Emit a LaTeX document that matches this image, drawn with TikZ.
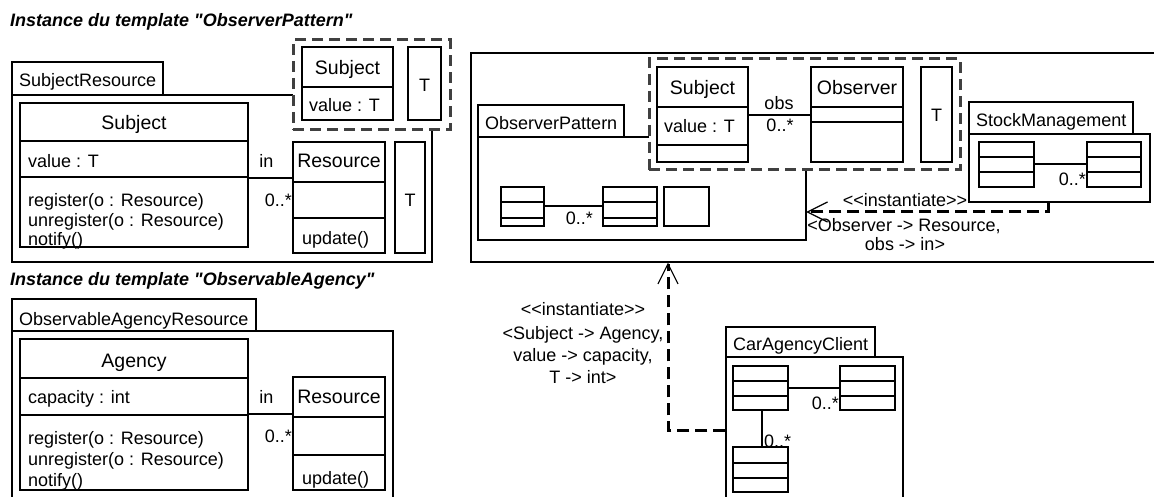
\documentclass[tikz,border=0pt]{standalone}
\usepackage{fontspec}
\newfontfamily\umlfont{Liberation Sans}
\usetikzlibrary{fit,arrows.meta}
\definecolor{tgray}{HTML}{404040}
\newcommand\umlsep[2]{\draw[ln] (#1.west |- 0,#2) -- (#1.east |- 0,#2);}
\begin{document}
\begin{tikzpicture}[x=1pt,y=-1pt,
  ln/.style={line width=1.1pt},
  bx/.style={draw, line width=1.1pt, inner sep=0pt, fit={#1}},
  hid/.style={inner sep=0pt, fit={#1}},
  tb/.style={draw=tgray, line width=3pt, dash pattern=on 11pt off 6pt, inner sep=0pt, fit={#1}},
  t/.style={inner sep=0pt, font=\umlfont\fontsize{18}{22}\selectfont},
  tl/.style={t, anchor=base west},
  tc/.style={t, anchor=base},
  tr/.style={t, anchor=base east},
  cn/.style={inner sep=0pt, anchor=base, font=\umlfont\fontsize{19.5}{22}\selectfont},
  ttl/.style={inner sep=0pt, anchor=base west, font=\umlfont\bfseries\itshape\fontsize{18}{22}\selectfont},
  dep/.style={line width=3pt, dash pattern=on 12pt off 6pt, -{Straight Barb[length=20pt,width=20pt,line width=1.2pt]}}]
\useasboundingbox (0,0) rectangle (1154,497);
\clip (0,0) rectangle (1154,497);
\fill[white] (0,0) rectangle (1154,497);

% ---------- Template instance ObserverPattern ----------
\node[ttl] (title1) at (10,26.5) {Instance du template "ObserverPattern"};
\node[bx={(12,62) (163,95)}] (sr-tab) {};
\node[tl] (sr-name) at (19,87) {SubjectResource};
\draw[ln] (293,95) -- (12,95) -- (12,262) -- (432,262) -- (432,130);
\node[tb={(293,40) (450,130)}] (sr-tmpl) {};
\node[bx={(302,47) (393,120)}] (sr-tsubj) {};
\umlsep{sr-tsubj}{87}
\node[cn] (sr-tsubj-n) at (347.5,75) {Subject};
\node[tl] (sr-tsubj-a) at (309,112) {value : T};
\node[bx={(408,47) (441,120)}] (sr-tT) {};
\node[tc] (sr-tT-n) at (424.5,92) {T};

\node[bx={(20,103) (248,247)}] (sr-subj) {};
\umlsep{sr-subj}{141}
\umlsep{sr-subj}{177}
\node[cn] (sr-subj-n) at (134,130) {Subject};
\node[tl] (sr-subj-a) at (28,168) {value : T};
\node[tl] (sr-subj-m1) at (28,207) {register(o : Resource)};
\node[tl] (sr-subj-m2) at (28,227) {unregister(o : Resource)};
\node[tl] (sr-subj-m3) at (28,246) {notify()};

\node[bx={(293,142) (385,253)}] (sr-res) {};
\umlsep{sr-res}{182}
\umlsep{sr-res}{218}
\node[cn] (sr-res-n) at (339,168) {Resource};
\node[tl] (sr-res-m) at (302,244) {update()};
\draw[ln] (sr-subj.east |- 0,178) -- (sr-res.west |- 0,178);
\node[tc] (sr-in) at (266.5,168) {in};
\node[tr] (sr-mult) at (292,207) {0..*};
\node[bx={(395,142) (425,253)}] (sr-T) {};
\node[tc] (sr-T-n) at (410,207) {T};

% ---------- Template instance ObservableAgency ----------
\node[ttl] (title2) at (10,285) {Instance du template "ObservableAgency"};
\node[bx={(12,299) (256,331)}] (oar-tab) {};
\node[tl] (oar-name) at (19,325) {ObservableAgencyResource};
\node[bx={(12,331) (393,530)}] (oar-body) {};
\node[bx={(20,339) (248,490)}] (oar-ag) {};
\umlsep{oar-ag}{378}
\umlsep{oar-ag}{415}
\node[cn] (oar-ag-n) at (134,367) {Agency};
\node[tl] (oar-ag-a) at (28,403) {capacity : int};
\node[tl] (oar-ag-m1) at (28,444) {register(o : Resource)};
\node[tl] (oar-ag-m2) at (28,465) {unregister(o : Resource)};
\node[tl] (oar-ag-m3) at (28,486) {notify()};
\node[bx={(293,377) (385,490)}] (oar-res) {};
\umlsep{oar-res}{417}
\umlsep{oar-res}{455}
\node[cn] (oar-res-n) at (339,403) {Resource};
\node[tl] (oar-res-m) at (302,484) {update()};
\draw[ln] (oar-ag.east |- 0,414) -- (oar-res.west |- 0,414);
\node[tc] (oar-in) at (266.5,403) {in};
\node[tr] (oar-mult) at (292,442) {0..*};

% ---------- Right part ----------
\node[bx={(471,53) (1180,262)}] (big) {};
\node[bx={(478,105) (624,137)}] (op-tab) {};
\node[tl] (op-name) at (485,130) {ObserverPattern};
\draw[ln] (649,137) -- (478,137) -- (478,240) -- (806,240) -- (806,170);
\node[hid={(478,137) (806,240)}] (op-body) {};
\node[tb={(649,59) (960,170)}] (op-tmpl) {};
\node[bx={(657,67) (748,162)}] (op-subj) {};
\umlsep{op-subj}{107}
\umlsep{op-subj}{145}
\node[cn] (op-subj-n) at (702.5,95) {Subject};
\node[tl] (op-subj-a) at (664,133) {value : T};
\node[bx={(811,67) (903,162)}] (op-obs) {};
\umlsep{op-obs}{107}
\umlsep{op-obs}{122}
\node[cn] (op-obs-n) at (857,95) {Observer};
\draw[ln] (op-subj.east |- 0,115) -- (op-obs.west |- 0,115);
\node[tc] (op-obs-role) at (779,110) {obs};
\node[tc] (op-obs-mult) at (780,132) {0..*};
\node[bx={(921,67) (952,162)}] (op-T) {};
\node[tc] (op-T-n) at (936.5,122) {T};

\node[bx={(501,187) (544,226)}] (op-b1) {};
\umlsep{op-b1}{202}
\umlsep{op-b1}{218}
\node[bx={(603,187) (657,226)}] (op-b2) {};
\umlsep{op-b2}{202}
\umlsep{op-b2}{218}
\node[bx={(664,187) (709,226)}] (op-b3) {};
\draw[ln] (op-b1.east |- 0,206) -- (op-b2.west |- 0,206);
\node[tr] (op-bmult) at (593,225) {0..*};

\node[bx={(969,102) (1133,134)}] (sm-tab) {};
\node[tl] (sm-name) at (976,127) {StockManagement};
\node[bx={(969,134) (1150,202)}] (sm-body) {};
\node[bx={(979,142) (1034,187)}] (sm-a) {};
\umlsep{sm-a}{157}
\umlsep{sm-a}{172}
\node[bx={(1087,142) (1141,187)}] (sm-b) {};
\umlsep{sm-b}{157}
\umlsep{sm-b}{172}
\draw[ln] (sm-a.east |- 0,164) -- (sm-b.west |- 0,164);
\node[tr] (sm-mult) at (1086,186) {0..*};

\draw[dep] (sm-body.south -| 1048,0) |- (op-body.east |- 0,212);
\node[tc] (dep1-l1) at (905,207) {<<instantiate>>};
\node[tc] (dep1-l2) at (904,232) {<Observer -> Resource,};
\node[tc] (dep1-l3) at (905,251) {obs -> in>};

\node[bx={(726,327) (875,357)}] (cac-tab) {};
\node[tl] (cac-name) at (733,350) {CarAgencyClient};
\node[bx={(726,357) (903,530)}] (cac-body) {};
\node[bx={(733,366) (788,410)}] (cac-a) {};
\umlsep{cac-a}{381}
\umlsep{cac-a}{396}
\node[bx={(840,366) (895,410)}] (cac-b) {};
\umlsep{cac-b}{381}
\umlsep{cac-b}{396}
\node[bx={(733,447) (788,492)}] (cac-c) {};
\umlsep{cac-c}{463}
\umlsep{cac-c}{478}
\draw[ln] (cac-a.east |- 0,388) -- (cac-b.west |- 0,388);
\node[tr] (cac-mult1) at (839,409) {0..*};
\draw[ln] (cac-a.south -| 762,0) -- (cac-c.north -| 762,0);
\node[tl] (cac-mult2) at (764,447) {0..*};

\draw[dep] (cac-body.west |- 0,430) -| (big.south -| 668,0);
\node[tc] (dep2-l1) at (583,315) {<<instantiate>>};
\node[tc] (dep2-l2) at (583,339) {<Subject -> Agency,};
\node[tc] (dep2-l3) at (583,361) {value -> capacity,};
\node[tc] (dep2-l4) at (583,383) {T -> int>};
\end{tikzpicture}
\end{document}
